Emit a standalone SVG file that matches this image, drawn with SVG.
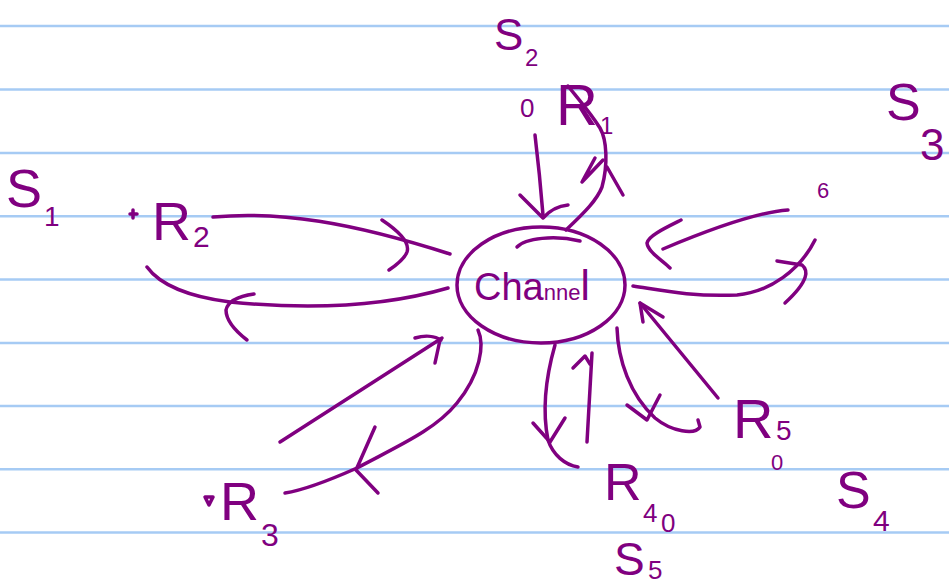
<svg xmlns="http://www.w3.org/2000/svg" width="949" height="585" viewBox="0 0 949 585">
<style>
.rule{stroke:#a6cbf4;stroke-width:2.5}
.ink{fill:none;stroke:#800080;stroke-width:3.5;stroke-linecap:round;stroke-linejoin:round}
.lbl{fill:#800080;font-family:"Liberation Sans Narrow","Liberation Sans",Arial,sans-serif}
</style>
<rect width="949" height="585" fill="#ffffff"/>
<g id="ruled-lines">
<line class="rule" x1="0" y1="26" x2="949" y2="26"/>
<line class="rule" x1="0" y1="89.5" x2="949" y2="89.5"/>
<line class="rule" x1="0" y1="153" x2="949" y2="153"/>
<line class="rule" x1="0" y1="216.3" x2="949" y2="216.3"/>
<line class="rule" x1="0" y1="279.6" x2="949" y2="279.6"/>
<line class="rule" x1="0" y1="343" x2="949" y2="343"/>
<line class="rule" x1="0" y1="406" x2="949" y2="406"/>
<line class="rule" x1="0" y1="469.3" x2="949" y2="469.3"/>
<line class="rule" x1="0" y1="532.6" x2="949" y2="532.6"/>
</g>
<g id="connectors">
<!-- R2 -> Channel -->
<path class="ink" d="M213,217 C280,211 350,222 450,254"/>
<path class="ink" d="M382,220 C400,232 410,243 407,252 C404,260 395,266 389,270"/>
<!-- Channel -> R2 -->
<path class="ink" d="M448,288 C400,302 330,312 230,302 C190,297 160,285 147,267"/>
<path class="ink" d="M254,294 C240,296 228,300 226,310 C226,322 238,333 247,340"/>
<!-- R3 -> Channel -->
<path class="ink" d="M280,442 L442,338"/>
<path class="ink" d="M415,338 C425,335 435,336 441,340 M440,340 L435,363"/>
<!-- Channel -> R3 -->
<path class="ink" d="M478,330 C485,345 480,375 457,403 C435,430 400,445 357,468 C330,480 305,490 285,493"/>
<path class="ink" d="M375,427 L356,470 L378,493"/>
<!-- S2 -> Channel -->
<path class="ink" d="M535,135 C538,160 541,190 543,215"/>
<path class="ink" d="M520,195 L543,218 C550,210 558,206 568,205"/>
<!-- R1 <-> Channel -->
<path class="ink" d="M568,86 C575,95 590,112 600,128 C607,140 608,165 602,187 C597,200 585,212 566,230"/>
<path class="ink" d="M595,158 L582,182 L603,160"/>
<path class="ink" d="M607,167 L623,195"/>
<!-- S3 -> Channel -->
<path class="ink" d="M788,210 C760,212 720,225 663,249"/>
<path class="ink" d="M681,220 C665,228 648,236 647,243 C648,252 662,260 670,268"/>
<!-- Channel -> S3 -->
<path class="ink" d="M633,286 C660,290 690,297 737,295 C770,292 800,270 815,240"/>
<path class="ink" d="M777,261 L802,265 C808,270 810,280 785,303"/>
<!-- Channel -> R4 -->
<path class="ink" d="M555,345 C545,380 542,410 548,440 C553,455 565,465 578,467"/>
<path class="ink" d="M533,423 L550,442 L565,418"/>
<!-- R4 -> Channel -->
<path class="ink" d="M587,442 L592,353"/>
<path class="ink" d="M573,368 L585,356 L590,364"/>
<!-- Channel -> R5 -->
<path class="ink" d="M617,328 C618,360 630,395 655,418 C672,432 695,435 700,427 L698,420"/>
<path class="ink" d="M627,405 L647,420 L660,395"/>
<!-- R5 -> Channel -->
<path class="ink" d="M718,398 L640,303"/>
<path class="ink" d="M643,322 L640,303 L663,317"/>
</g>
<g id="node-channel">
<ellipse class="ink" cx="541" cy="285" rx="84" ry="58"/>
<path class="ink" d="M517,247 C525,238 555,235 580,241"/>
<text class="lbl" x="474" y="300" font-size="38">Cha<tspan font-size="22">nne</tspan><tspan font-size="42">l</tspan></text>
</g>
<g id="node-S1">
<text class="lbl" x="6" y="207" font-size="54">S</text>
<text class="lbl" x="44" y="226" font-size="28">1</text>
</g>
<g id="node-R2">
<path class="ink" d="M130,214 L137,214 M133,210 L133,218"/>
<text class="lbl" x="152" y="240" font-size="54">R</text>
<text class="lbl" x="193" y="247" font-size="30">2</text>
</g>
<g id="node-S2">
<text class="lbl" x="494" y="50" font-size="44">S</text>
<text class="lbl" x="525" y="66" font-size="24">2</text>
<text class="lbl" x="520" y="117" font-size="26">0</text>
</g>
<g id="node-R1">
<text class="lbl" x="556" y="125" font-size="58">R</text>
<text class="lbl" x="600" y="134" font-size="24">1</text>
</g>
<g id="node-S3">
<text class="lbl" x="886" y="120" font-size="52">S</text>
<text class="lbl" x="920" y="160" font-size="44">3</text>
<text class="lbl" x="817" y="198" font-size="22">6</text>
</g>
<g id="node-R3">
<path class="ink" d="M205,497 L213,497 L209,505 Z"/>
<text class="lbl" x="220" y="520" font-size="54">R</text>
<text class="lbl" x="261" y="546" font-size="32">3</text>
</g>
<g id="node-R4">
<text class="lbl" x="604" y="500" font-size="52">R</text>
<text class="lbl" x="643" y="522" font-size="26">4</text>
<text class="lbl" x="661" y="532" font-size="26">0</text>
</g>
<g id="node-R5">
<text class="lbl" x="733" y="438" font-size="56">R</text>
<text class="lbl" x="776" y="440" font-size="28">5</text>
<text class="lbl" x="771" y="470" font-size="22">0</text>
</g>
<g id="node-S4">
<text class="lbl" x="836" y="508" font-size="52">S</text>
<text class="lbl" x="873" y="531" font-size="30">4</text>
</g>
<g id="node-S5">
<text class="lbl" x="614" y="575" font-size="46">S</text>
<text class="lbl" x="648" y="579" font-size="26">5</text>
</g>
</svg>
